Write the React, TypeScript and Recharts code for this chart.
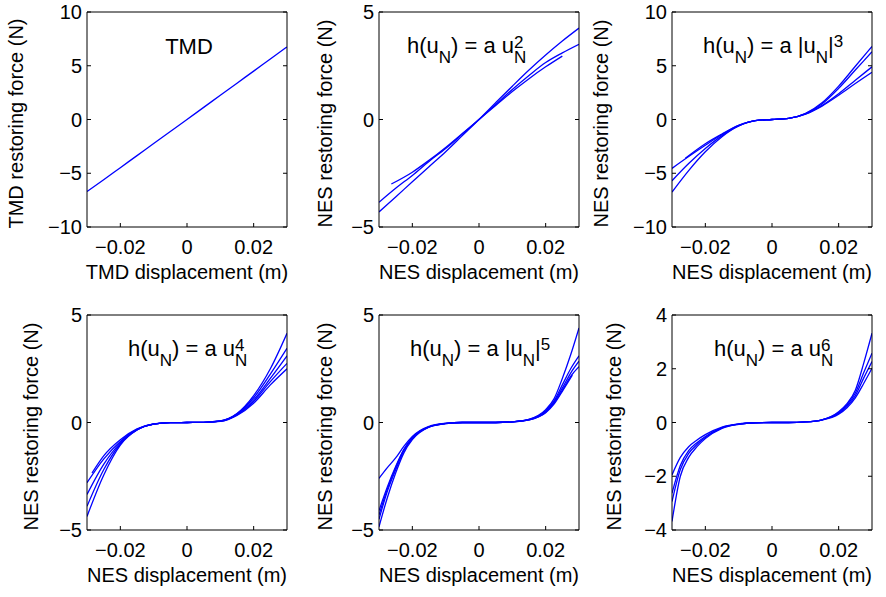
import React from 'react'
import { LineChart, Line, XAxis, YAxis } from 'recharts'

// displacement grids (m) used by the curves
const X_GRID = [-0.03, -0.025, -0.02, -0.015, -0.01, -0.005, 0, 0.005, 0.01, 0.015, 0.02, 0.025, 0.03]
const X_FINE = [-0.03, -0.0275, -0.025, -0.0225, -0.02, -0.015, -0.01, -0.005, 0, 0.005, 0.01, 0.015, 0.02, 0.0225, 0.025, 0.0275, 0.03]
const X_TICKS = [-0.02, 0, 0.02]

// TMD (linear spring)
const TMD_F = [-6.7, -5.6, -4.48, -3.36, -2.24, -1.12, 0, 1.13, 2.25, 3.38, 4.5, 5.63, 6.75]

// h(u) = a u^2
const U2_A = [-4.3, -3.6, -2.9, -2.2, -1.5, -0.75, 0, 0.78, 1.55, 2.3, 3.0, 3.65, 4.25]
const U2_B = [-3.85, -3.2, -2.6, -1.95, -1.35, -0.68, 0, 0.7, 1.4, 2.05, 2.65, 3.1, 3.5]
const U2_C_X = [-0.0263, -0.02, -0.015, -0.01, -0.005, 0, 0.005, 0.01, 0.015, 0.02, 0.025]
const U2_C = [-3.0, -2.45, -1.9, -1.3, -0.65, 0, 0.65, 1.3, 1.9, 2.45, 2.95]

// h(u) = a |u|^3
const U3_A = [-6.75, -4.75, -3.0, -1.6, -0.6, -0.1, 0, 0.1, 0.55, 1.55, 3.1, 4.95, 6.8]
const U3_B = [-5.7, -4.1, -2.7, -1.5, -0.6, -0.1, 0, 0.1, 0.55, 1.45, 2.9, 4.6, 6.3]
const U3_C = [-4.55, -3.45, -2.4, -1.4, -0.55, -0.1, 0, 0.1, 0.5, 1.3, 2.4, 3.65, 4.9]
const U3_D_X = [-0.026, -0.02, -0.015, -0.01, -0.005, 0, 0.005, 0.01, 0.015, 0.02, 0.025, 0.03]
const U3_D = [-3.6, -2.25, -1.35, -0.55, -0.1, 0, 0.1, 0.5, 1.25, 2.25, 3.35, 4.4]

// h(u) = a u^4
const U4_A = [-4.37, -2.45, -1.05, -0.35, -0.08, -0.01, 0, 0.01, 0.07, 0.42, 1.25, 2.5, 4.15]
const U4_B = [-3.9, -2.2, -1.0, -0.35, -0.08, -0.01, 0, 0.01, 0.07, 0.4, 1.15, 2.25, 3.45]
const U4_C = [-3.35, -1.95, -0.95, -0.33, -0.08, -0.01, 0, 0.01, 0.06, 0.38, 1.05, 2.05, 3.1]
const U4_D = [-2.8, -1.7, -0.88, -0.32, -0.07, -0.01, 0, 0.01, 0.06, 0.36, 0.98, 1.9, 2.75]
const U4_E_X = [-0.0285, -0.025, -0.02, -0.015, -0.01, -0.005, 0, 0.005, 0.01, 0.015, 0.02, 0.025, 0.03]
const U4_E = [-2.35, -1.55, -0.8, -0.3, -0.07, -0.01, 0, 0.01, 0.05, 0.33, 0.9, 1.75, 2.5]

// h(u) = a |u|^5
const U5_A = [-4.85, -3.5, -2.35, -1.4, -0.8, -0.22, -0.05, 0, 0, 0, 0.03, 0.15, 0.6, 1.1, 2.05, 3.15, 4.4]
const U5_B = [-4.5, -3.2, -2.2, -1.3, -0.75, -0.21, -0.05, 0, 0, 0, 0.03, 0.14, 0.55, 1.0, 1.75, 2.5, 3.1]
const U5_C = [-4.1, -3.0, -2.05, -1.25, -0.72, -0.2, -0.04, 0, 0, 0, 0.03, 0.13, 0.5, 0.95, 1.6, 2.3, 2.85]
const U5_D = [-2.6, -2.1, -1.65, -1.1, -0.65, -0.18, -0.04, 0, 0, 0, 0.03, 0.12, 0.48, 0.9, 1.5, 2.15, 2.6]
const U5_E_X = [-0.03, -0.0275, -0.025, -0.0225, -0.02, -0.015, -0.01, -0.005, 0, 0.005, 0.01, 0.015, 0.02, 0.0225, 0.025, 0.028]
const U5_E = [-4.3, -3.1, -2.1, -1.25, -0.7, -0.2, -0.04, 0, 0, 0, 0.03, 0.12, 0.45, 0.85, 1.45, 2.2]

// h(u) = a u^6
const U6_A = [-3.68, -2.0, -1.3, -0.9, -0.6, -0.22, -0.07, -0.01, 0, 0, 0.02, 0.1, 0.4, 0.7, 1.2, 2.2, 3.32]
const U6_B = [-2.94, -1.75, -1.15, -0.82, -0.56, -0.2, -0.06, -0.01, 0, 0, 0.02, 0.1, 0.37, 0.65, 1.1, 1.85, 2.58]
const U6_C = [-2.63, -1.6, -1.05, -0.75, -0.52, -0.19, -0.06, -0.01, 0, 0, 0.02, 0.1, 0.34, 0.6, 1.0, 1.65, 2.27]
const U6_D = [-1.95, -1.3, -0.9, -0.65, -0.45, -0.17, -0.05, -0.01, 0, 0, 0.02, 0.09, 0.31, 0.55, 0.92, 1.45, 2.02]

const FONT = '"Liberation Sans", Arial, Helvetica, sans-serif'
const BLUE = '#0000ff'
const W = 200
const H = 215

type Curve = { x: number[]; y: number[] }

const pts = (c: Curve) => c.x.map((x, i) => ({ x, y: c.y[i] }))

function fmt(v: number) {
  return v < 0 ? `\u2212${Math.abs(v)}` : String(v)
}

const PANELS = [
  {
    left: 87, top: 12, yDomain: [-10, 10], yTicks: [-10, -5, 0, 5, 10], labX: 23, fx: 189, exp: '',
    xLabel: 'TMD displacement (m)', yLabel: 'TMD restoring force (N)',
    curves: [{ x: X_GRID, y: TMD_F }],
  },
  {
    left: 379, top: 12, yDomain: [-5, 5], yTicks: [-5, 0, 5], labX: 332, fx: 407, exp: '2', bars: false,
    xLabel: 'NES displacement (m)', yLabel: 'NES restoring force (N)',
    curves: [{ x: X_GRID, y: U2_A }, { x: X_GRID, y: U2_B }, { x: U2_C_X, y: U2_C }],
  },
  {
    left: 672, top: 12, yDomain: [-10, 10], yTicks: [-10, -5, 0, 5, 10], labX: 608, fx: 703, exp: '3', bars: true,
    xLabel: 'NES displacement (m)', yLabel: 'NES restoring force (N)',
    curves: [{ x: X_GRID, y: U3_A }, { x: X_GRID, y: U3_B }, { x: X_GRID, y: U3_C }, { x: U3_D_X, y: U3_D }],
  },
  {
    left: 87, top: 315, yDomain: [-5, 5], yTicks: [-5, 0, 5], labX: 38, fx: 128, exp: '4', bars: false,
    xLabel: 'NES displacement (m)', yLabel: 'NES restoring force (N)',
    curves: [
      { x: X_GRID, y: U4_A }, { x: X_GRID, y: U4_B }, { x: X_GRID, y: U4_C },
      { x: X_GRID, y: U4_D }, { x: U4_E_X, y: U4_E },
    ],
  },
  {
    left: 379, top: 315, yDomain: [-5, 5], yTicks: [-5, 0, 5], labX: 332, fx: 410, exp: '5', bars: true,
    xLabel: 'NES displacement (m)', yLabel: 'NES restoring force (N)',
    curves: [
      { x: X_FINE, y: U5_A }, { x: X_FINE, y: U5_B }, { x: X_FINE, y: U5_C },
      { x: X_FINE, y: U5_D }, { x: U5_E_X, y: U5_E },
    ],
  },
  {
    left: 672, top: 315, yDomain: [-4, 4], yTicks: [-4, -2, 0, 2, 4], labX: 621, fx: 714, exp: '6', bars: false,
    xLabel: 'NES displacement (m)', yLabel: 'NES restoring force (N)',
    curves: [{ x: X_FINE, y: U6_A }, { x: X_FINE, y: U6_B }, { x: X_FINE, y: U6_C }, { x: X_FINE, y: U6_D }],
  },
]

const ML = 80, MT = 10, MR = 10, MB = 60
const axisStyle = { fontSize: 20, fontFamily: FONT, fill: '#000' }

function Panel({ p }: { p: (typeof PANELS)[number] }) {
  return (
    <div style={{ position: 'absolute', left: p.left - ML, top: p.top - MT }}>
      <LineChart width={ML + W + MR} height={MT + H + MB} margin={{ top: 0, right: 0, bottom: 0, left: 0 }}>
        <XAxis
          type="number" dataKey="x" domain={[-0.03, 0.03]} ticks={X_TICKS} allowDataOverflow
          height={MB} tickSize={-4} tickMargin={17} interval={0} tickFormatter={fmt}
          stroke="#000" tick={axisStyle} tickLine={{ stroke: '#000' }}
        />
        <XAxis
          xAxisId="top" orientation="top" type="number" domain={[-0.03, 0.03]} ticks={X_TICKS} allowDataOverflow
          height={MT} tickSize={-4} interval={0} tickFormatter={() => ''} stroke="#000" tickLine={{ stroke: '#000' }}
        />
        <YAxis
          type="number" domain={p.yDomain} ticks={p.yTicks} allowDataOverflow
          width={ML} tickSize={-4} tickMargin={9} interval={0} tickFormatter={fmt}
          stroke="#000" tick={axisStyle} tickLine={{ stroke: '#000' }}
        />
        <YAxis
          yAxisId="right" orientation="right" type="number" domain={p.yDomain} ticks={p.yTicks} allowDataOverflow
          width={MR} tickSize={-4} interval={0} tickFormatter={() => ''} stroke="#000" tickLine={{ stroke: '#000' }}
        />
        {p.curves.map((c, i) => (
          <Line
            key={i}
            data={pts(c)}
            dataKey="y"
            type="monotone"
            stroke={BLUE}
            strokeWidth={1.3}
            dot={false}
            activeDot={false}
            isAnimationActive={false}
          />
        ))}
      </LineChart>
    </div>
  )
}

function Formula({ x, y, exp, bars }: { x: number; y: number; exp: string; bars?: boolean }) {
  return (
    <text x={x} y={y} fontSize={22} fontFamily={FONT} fill="#000">
      h(u<tspan dy={10} fontSize={17}>N</tspan>
      <tspan dy={-10}>{`) = a ${bars ? '|' : ''}u`}</tspan>
      <tspan dy={10} fontSize={17}>N</tspan>
      {bars ? (
        <>
          <tspan dy={-10}>|</tspan>
          <tspan dy={-6} fontSize={17}>{exp}</tspan>
        </>
      ) : (
        <tspan dx={-12.3} dy={-15} fontSize={17}>{exp}</tspan>
      )}
    </text>
  )
}

export default function App() {
  return (
    <div style={{ position: 'absolute', left: 0, top: 0, width: 886, height: 597, background: '#fff', overflow: 'hidden' }}>
      {PANELS.map((p, i) => <Panel key={i} p={p} />)}
      <svg width={886} height={597} style={{ position: 'absolute', left: 0, top: 0, pointerEvents: 'none' }}>
        {PANELS.map((p, i) => (
          <g key={i}>
            <text
              transform={`translate(${p.labX},${p.top + H / 2 + 4}) rotate(-90)`}
              textAnchor="middle" fontSize={20} fontFamily={FONT} fill="#000"
            >
              {p.yLabel}
            </text>
            <text x={p.left + W / 2} y={p.top + H + 52} textAnchor="middle" fontSize={20} fontFamily={FONT} fill="#000">
              {p.xLabel}
            </text>
            {p.exp === '' ? (
              <text x={p.fx} y={p.top + 42} textAnchor="middle" fontSize={22} fontFamily={FONT} fill="#000">TMD</text>
            ) : (
              <Formula x={p.fx} y={p.top + 41} exp={p.exp} bars={p.bars} />
            )}
          </g>
        ))}
      </svg>
    </div>
  )
}
